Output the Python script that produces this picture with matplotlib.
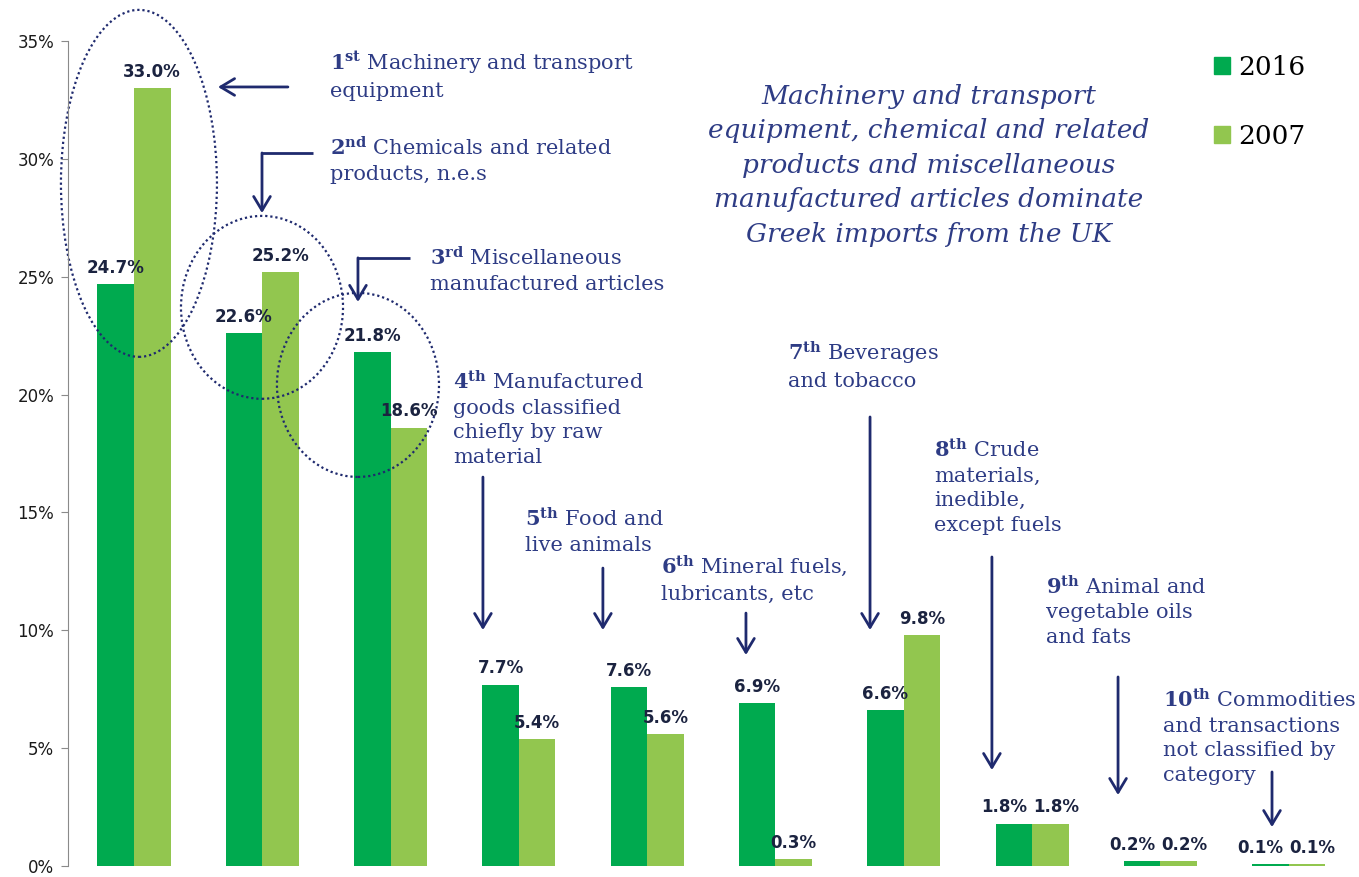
import matplotlib.pyplot as plt
from matplotlib.patches import Ellipse, Patch

plt.rcParams["mathtext.fontset"] = "custom"
plt.rcParams["mathtext.rm"] = "DejaVu Serif"
plt.rcParams["mathtext.bf"] = "DejaVu Serif:bold"

# Share of Greek imports from the UK by SITC section (%)
years = ["2016", "2007"]
share_2016 = [24.7, 22.6, 21.8, 7.7, 7.6, 6.9, 6.6, 1.8, 0.2, 0.1]
share_2007 = [33.0, 25.2, 18.6, 5.4, 5.6, 0.3, 9.8, 1.8, 0.2, 0.1]
ranks = ["1", "2", "3", "4", "5", "6", "7", "8", "9", "10"]
suffixes = ["st", "nd", "rd", "th", "th", "th", "th", "th", "th", "th"]
sections = [
    "Machinery and transport\nequipment",
    "Chemicals and related\nproducts, n.e.s",
    "Miscellaneous\nmanufactured articles",
    "Manufactured\ngoods classified\nchiefly by raw\nmaterial",
    "Food and\nlive animals",
    "Mineral fuels,\nlubricants, etc",
    "Beverages\nand tobacco",
    "Crude\nmaterials,\ninedible,\nexcept fuels",
    "Animal and\nvegetable oils\nand fats",
    "Commodities\nand transactions\nnot classified by\ncategory",
]
headline = ("Machinery and transport\nequipment, chemical and related\n"
            "products and miscellaneous\nmanufactured articles dominate\n"
            "Greek imports from the UK")

dark_green = "#00AA4F"
light_green = "#92C64F"
navy = "#1F2A6E"
note_color = "#2E3C85"
label_color = "#1B2340"

fig = plt.figure(figsize=(13.59, 8.77), dpi=100)
ax = fig.add_axes([68 / 1359, 11 / 877, 1291 / 1359, 825 / 877])

x = list(range(len(share_2016)))
w = 0.285
b16 = ax.bar([i - w / 2 for i in x], share_2016, w, color=dark_green, label=years[0])
b07 = ax.bar([i + w / 2 for i in x], share_2007, w, color=light_green, label=years[1])

# value labels; nudge apart when the two labels would collide
for i, (r16, r07) in enumerate(zip(b16, b07)):
    close = abs(share_2016[i] - share_2007[i]) < 1.0
    for rect, val, dx in ((r16, share_2016[i], -7 if close else 0),
                          (r07, share_2007[i], 4 if close else 0)):
        ax.annotate(f"{val:.1f}%", (rect.get_x() + rect.get_width() / 2, rect.get_height()),
                    xytext=(dx, 8), textcoords="offset points", ha="center", va="baseline",
                    fontsize=12, fontweight="bold", color=label_color,
                    family="DejaVu Sans", annotation_clip=False)

ax.set_xlim(-0.514, 9.548)
ax.set_ylim(0, 35)
ax.set_yticks(range(0, 36, 5))
ax.set_yticklabels([f"{v}%" for v in range(0, 36, 5)], fontsize=12,
                   family="DejaVu Sans", color="#1a1a1a")
ax.set_xticks([])
ax.tick_params(axis="y", direction="out", length=5, color="#8a8a8a", pad=5)
for side in ("top", "right", "bottom"):
    ax.spines[side].set_visible(False)
ax.spines["left"].set_color("#8a8a8a")

# ranked section notes, anchored at the baseline of their last line
note_pos = [(1.528, 32.63), (1.528, 29.10), (2.307, 24.44), (2.486, 17.10), (3.048, 13.36),
            (4.108, 11.29), (5.097, 20.32), (6.235, 14.21), (7.108, 9.46), (8.020, 3.61)]
for (nx, ny), r, s, name in zip(note_pos, ranks, suffixes, sections):
    ax.text(nx, ny, rf"$\mathbf{{{r}^{{{s}}}}}$ " + name, fontsize=15, family="DejaVu Serif",
            color=note_color, ha="left", va="baseline", linespacing=1.38, clip_on=False)

arrow_kw = dict(arrowstyle="->,head_length=0.5,head_width=0.3", color=navy, lw=2,
                shrinkA=0, shrinkB=0, mutation_scale=20)

# first: horizontal pointer
ax.annotate("", xy=(0.655, 33.05), xytext=(1.200, 33.05), arrowprops=arrow_kw,
            annotation_clip=False)
# second and third: elbow pointers
for (x0, x1, y0, y1) in [(1.395, 0.998, 30.25, 27.70), (2.151, 1.746, 25.80, 23.93)]:
    ax.plot([x0, x1], [y0, y0], color=navy, lw=2, solid_capstyle="butt", clip_on=False)
    ax.annotate("", xy=(x1, y1), xytext=(x1, y0), arrowprops=arrow_kw, annotation_clip=False)
# the rest: vertical pointers
for (ax_x, y0, y1) in [(2.720, 16.50, 10.01), (3.655, 12.64, 10.01), (4.770, 10.73, 8.95),
                       (5.737, 19.05, 10.01), (6.687, 13.11, 4.07), (7.670, 8.02, 3.01),
                       (8.870, 3.99, 1.65)]:
    ax.annotate("", xy=(ax_x, y1), xytext=(ax_x, y0), arrowprops=arrow_kw,
                annotation_clip=False)

# dotted rings around the top three sections
for (cx, cy, ew, eh) in [(0.039, 28.96, 1.216, 14.72), (0.998, 23.70, 1.263, 7.76),
                         (1.746, 20.41, 1.263, 7.81)]:
    ax.add_patch(Ellipse((cx, cy), ew, eh, fill=False, edgecolor=navy, lw=1.6,
                         linestyle=(0, (1, 1.3)), clip_on=False))

ax.text(6.196, 26.47, headline, fontsize=19, family="DejaVu Serif", style="italic",
        color=note_color, ha="center", va="baseline", linespacing=1.48, clip_on=False)

handles = [Patch(color=dark_green, label=years[0]), Patch(color=light_green, label=years[1])]
ax.legend(handles=handles, loc="upper left", bbox_to_anchor=(1214 / 1359, 1 - 55 / 877),
          bbox_transform=fig.transFigure, frameon=False, borderpad=0, borderaxespad=0,
          handlelength=0.62, handleheight=0.62, handletextpad=0.3, labelspacing=1.65,
          prop={"family": "DejaVu Serif", "size": 19})

fig.savefig("out.png", dpi=100)
